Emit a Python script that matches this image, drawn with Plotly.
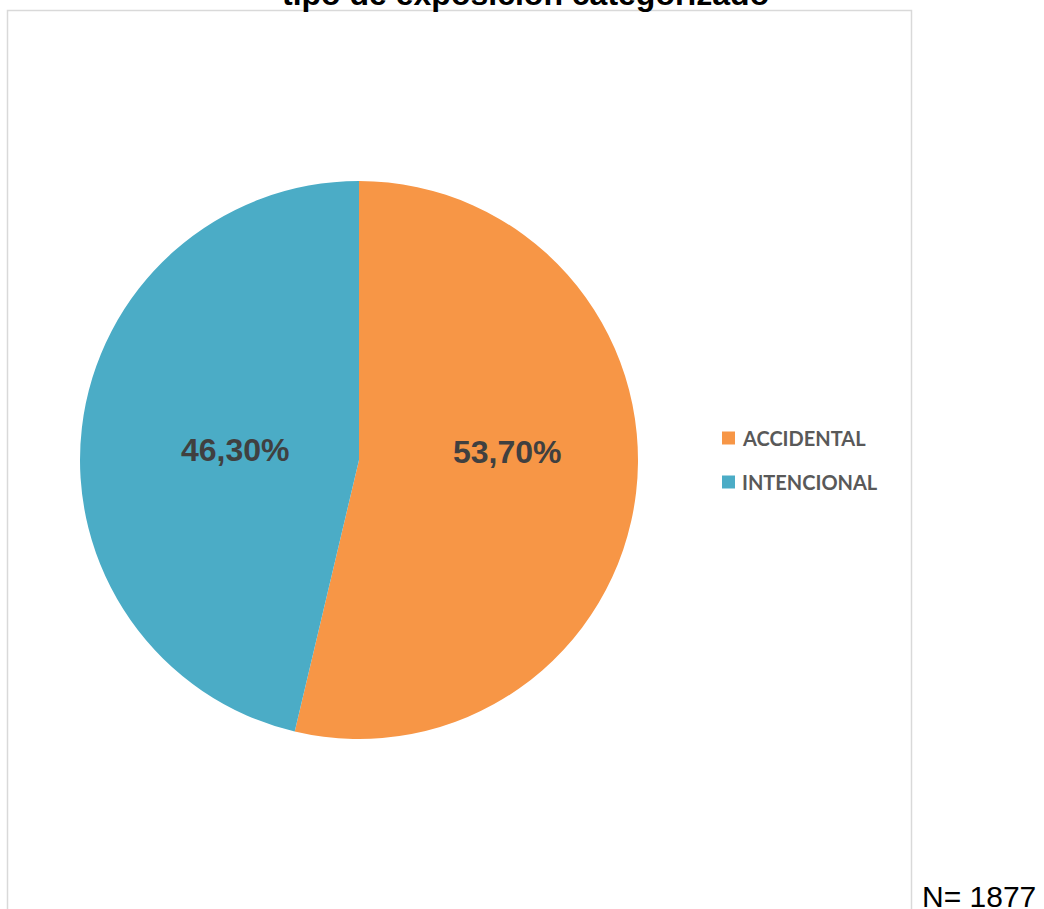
import plotly.graph_objects as go

# Tipo de exposición
categories = ["ACCIDENTAL", "INTENCIONAL"]
percentages = [53.70, 46.30]
colors = ["#F79646", "#4BACC6"]
total_n = 1877
title_text = "tipo de exposición categorizado"

W, H = 1044, 909

def px(x):
    return x / W

def py(y):
    return 1 - y / H

fig = go.Figure()

# Pie: centre (359, 460), radius 279 px
cx, cy, r = 359, 460, 279
fig.add_trace(go.Pie(
    labels=categories,
    values=percentages,
    marker=dict(colors=colors, line=dict(width=0)),
    sort=False,
    direction="clockwise",
    rotation=0,
    textinfo="none",
    hoverinfo="label+percent",
    showlegend=False,
    domain=dict(x=[px(cx - r), px(cx + r)], y=[py(cy + r), py(cy - r)]),
))

def fmt(v):
    return f"{v:.2f}".replace(".", ",") + "%"

annotations = []
# Value labels inside the slices
label_pos = [(507, 452), (235, 450)]
for v, (lx, ly) in zip(percentages, label_pos):
    annotations.append(dict(
        x=px(lx), y=py(ly), xref="paper", yref="paper",
        text=f"<b>{fmt(v)}</b>", showarrow=False,
        font=dict(family="Liberation Sans, Arial", size=32, color="#404040"),
        xanchor="center", yanchor="middle",
    ))

# Legend
shapes = []
legend_rows = [438, 482]
for name, col, ry in zip(categories, colors, legend_rows):
    shapes.append(dict(
        type="rect", xref="paper", yref="paper",
        x0=px(722), x1=px(735), y0=py(ry + 6.5), y1=py(ry - 6.5),
        fillcolor=col, line=dict(width=0),
    ))
    annotations.append(dict(
        x=px(740), y=py(ry), xref="paper", yref="paper",
        text=f"<b>{name}</b>", showarrow=False,
        font=dict(family="Lato, Open Sans", size=20, color="#595959"),
        xanchor="left", yanchor="middle",
    ))

# Chart border
shapes.append(dict(
    type="rect", xref="paper", yref="paper",
    x0=px(7.5), x1=px(911.5), y0=py(920), y1=py(10.5),
    line=dict(color="#D9D9D9", width=1.5), fillcolor="rgba(0,0,0,0)",
))

# Title (partly above the page edge)
annotations.append(dict(
    x=px(525), y=py(14), xref="paper", yref="paper",
    text=f"<b>{title_text}</b>", showarrow=False,
    font=dict(family="Liberation Sans, Arial", size=32, color="#000000"),
    xanchor="center", yanchor="bottom",
))

# Sample size
annotations.append(dict(
    x=px(920), y=py(896), xref="paper", yref="paper",
    text=f"N= {total_n}", showarrow=False,
    font=dict(family="Liberation Sans, Arial", size=30, color="#000000"),
    xanchor="left", yanchor="middle",
))

fig.update_layout(
    width=W, height=H,
    margin=dict(l=0, r=0, t=0, b=0),
    paper_bgcolor="white",
    plot_bgcolor="white",
    shapes=shapes,
    annotations=annotations,
)

fig.write_html("out.html")
